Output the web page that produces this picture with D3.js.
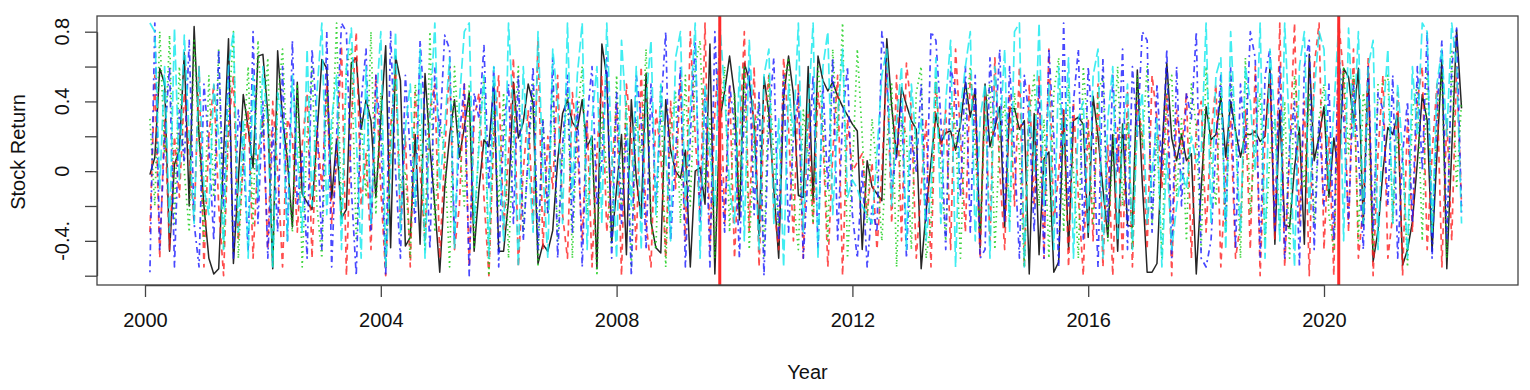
<!DOCTYPE html>
<html>
<head>
<meta charset="utf-8">
<script src="https://cdn.jsdelivr.net/npm/d3@7"></script>
<style>
  html, body { margin: 0; padding: 0; background: #fff; }
  svg text { font-family: "Liberation Sans", Arial, sans-serif; fill: #111; }
</style>
</head>
<body>
<svg width="1530" height="390"></svg>
<script>
// monthly returns, first point = Feb 2000
const startYear = 2000;

const blackSeries = [
  -0.02,0.08,0.59,0.5,-0.46,0.04,0.12,0.68,-0.2,0.83,
  0.2,-0.2,-0.5,-0.59,-0.56,0.1,0.76,-0.53,-0.05,0.44,
  0.25,0.02,0.66,0.67,0.33,-0.56,0.69,0.3,0.06,-0.32,
  0.51,-0.13,-0.18,-0.22,0.2,0.64,0.59,-0.16,0.18,-0.27,
  -0.22,0.62,0.65,0.24,0.41,0.29,-0.15,0.3,0.72,-0.44,
  0.66,0.52,-0.43,-0.38,0.21,-0.42,0.56,0.14,-0.2,-0.58,
  -0.1,0.2,0.41,0.08,0.25,0.45,-0.46,-0.1,0.18,0.14,
  0.5,-0.46,-0.46,-0.17,0.51,0.19,0.28,0.5,0.39,-0.53,
  -0.42,-0.46,-0.34,0.06,0.33,0.41,0.28,0.24,0.41,0.14,
  0.2,-0.56,0.73,0.54,-0.41,-0.1,0.21,-0.48,0.41,-0.04,
  -0.27,0.56,-0.29,-0.44,-0.47,0.41,0.12,0.0,-0.04,0.12,
  -0.55,0.0,0.02,-0.19,0.73,-0.59,0.29,0.46,0.66,0.44,
  -0.28,0.62,0.52,0.27,-0.37,0.54,0.33,-0.1,-0.5,0.42,
  0.66,0.44,-0.14,-0.15,0.6,-0.17,0.66,0.52,0.46,0.51,
  0.43,0.37,0.32,0.27,0.23,-0.45,0.06,-0.09,-0.13,-0.17,
  0.76,0.37,0.08,0.48,0.38,0.29,0.24,-0.56,-0.23,0.05,
  0.33,0.16,0.22,0.23,0.12,0.27,0.51,0.31,0.47,-0.44,
  0.5,0.14,0.25,0.37,-0.32,0.36,0.36,0.24,0.29,-0.59,
  0.33,-0.48,0.07,0.11,-0.58,-0.52,0.35,-0.45,0.29,0.31,
  0.27,-0.38,0.43,0.2,-0.1,-0.38,0.21,-0.46,0.27,-0.31,
  -0.32,0.58,-0.06,-0.58,-0.58,-0.53,0.1,0.62,0.19,0.06,
  0.21,0.06,0.1,-0.59,-0.1,0.37,0.18,0.21,0.43,0.08,
  0.4,0.23,0.08,0.21,0.21,0.23,0.17,0.2,0.59,-0.42,
  0.35,-0.31,-0.32,0.02,0.25,-0.42,0.67,0.06,0.2,0.37,
  -0.15,0.19,-0.02,0.59,0.54,0.28,0.59,-0.31,0.6,-0.52,
  -0.34,0.0,0.25,0.21,0.33,-0.54,-0.45,-0.29,0.05,0.44,
  0.29,-0.46,0.1,0.64,-0.56,0.12,0.81,0.36
];

const redSeries = [
  -0.35,0.55,-0.5,0.3,-0.45,0.2,-0.15,0.45,0.1,-0.3,
  0.6,-0.55,0.2,0.5,-0.2,-0.6,0.25,0.55,-0.4,0.05,
  0.35,-0.5,0.1,0.3,-0.45,0.4,0.0,-0.55,0.3,0.2,
  -0.35,0.15,0.45,-0.5,0.25,-0.1,0.5,-0.3,0.05,0.72,
  -0.6,0.3,0.8,-0.2,0.1,-0.45,0.55,-0.1,-0.6,0.25,
  0.6,-0.3,0.2,-0.55,0.45,0.0,-0.4,0.35,0.5,-0.5,
  0.1,0.6,-0.45,-0.2,0.5,-0.55,0.3,0.45,-0.15,-0.6,
  0.2,0.55,-0.35,0.1,0.65,-0.55,0.0,0.35,-0.3,0.75,
  -0.45,0.2,-0.1,0.55,-0.25,-0.5,0.45,0.15,-0.4,0.3,
  -0.55,0.1,0.55,-0.35,0.0,0.4,-0.6,0.5,0.2,-0.45,
  0.6,-0.3,-0.55,0.35,0.1,-0.5,0.4,-0.1,0.55,-0.4,
  0.8,0.2,-0.25,0.85,-0.45,0.35,0.7,-0.3,0.5,-0.5,
  0.15,0.8,-0.35,0.6,-0.55,0.3,0.55,-0.2,-0.45,0.65,
  0.25,-0.4,0.5,-0.5,0.35,-0.3,0.45,0.2,-0.55,0.1,
  0.55,-0.6,0.3,0.0,0.05,0.1,-0.25,0.05,-0.45,0.0,
  0.6,-0.3,0.55,-0.4,0.62,0.35,-0.5,-0.1,0.3,-0.55,
  0.5,0.1,0.35,-0.45,0.7,0.2,-0.35,0.55,0.3,-0.5,
  0.45,-0.4,0.65,0.0,-0.45,0.45,-0.2,0.6,-0.55,0.5,
  -0.2,0.55,-0.5,0.7,-0.3,0.0,0.35,-0.55,0.4,-0.15,
  -0.6,0.3,-0.4,0.5,-0.55,0.15,-0.6,0.25,-0.5,0.45,
  -0.55,0.4,0.2,-0.45,0.55,0.3,-0.1,0.45,-0.6,0.35,
  0.1,0.45,-0.5,0.25,0.4,-0.35,0.2,0.5,-0.55,0.0,
  0.3,-0.5,-0.3,0.35,-0.45,0.6,-0.6,0.2,0.55,-0.4,
  0.85,-0.55,0.1,0.85,-0.3,0.4,-0.6,0.6,0.85,-0.45,
  0.2,-0.6,0.85,0.55,-0.35,0.7,-0.5,-0.2,0.65,-0.6,
  0.1,0.55,-0.5,-0.25,0.45,-0.6,0.3,-0.35,0.4,0.6,
  -0.45,0.1,0.5,-0.55,0.3,-0.4,0.6,-0.2
];

const greenSeries = [
  0.3,-0.2,0.8,0.1,0.78,-0.3,0.6,0.0,-0.35,0.75,
  0.2,-0.4,0.55,-0.15,0.7,-0.45,0.3,0.8,-0.5,0.1,
  0.6,-0.3,0.75,0.2,0.65,-0.55,0.4,0.7,0.05,-0.35,
  0.5,-0.55,0.2,0.6,-0.2,-0.5,0.45,0.1,0.85,-0.3,
  0.6,0.7,-0.4,0.3,-0.15,0.8,-0.25,0.45,-0.55,0.2,
  0.55,-0.1,0.0,-0.5,0.5,0.25,-0.45,0.8,-0.35,0.3,
  0.1,-0.55,0.6,0.15,-0.2,0.5,-0.45,0.2,0.55,-0.6,
  0.35,-0.2,0.45,-0.5,0.2,0.6,-0.35,0.05,0.5,-0.55,
  0.3,-0.25,0.5,-0.4,0.1,0.45,-0.5,0.3,0.6,-0.25,
  0.2,-0.6,0.35,0.0,-0.45,0.55,-0.2,0.4,-0.55,0.3,
  0.1,0.7,-0.3,-0.45,0.5,-0.55,0.25,0.45,-0.3,0.55,
  -0.2,0.6,0.75,-0.1,0.3,-0.5,0.25,0.6,-0.35,0.45,
  -0.2,0.6,-0.45,0.2,0.4,-0.5,0.55,0.1,-0.35,0.5,
  0.65,-0.15,-0.45,0.35,0.1,-0.3,0.6,0.3,-0.4,0.7,
  0.2,0.85,-0.5,0.0,0.7,0.2,-0.3,0.3,0.0,-0.4,
  0.15,0.5,-0.55,0.3,0.2,-0.45,0.45,0.6,-0.5,-0.3,
  0.55,0.0,-0.4,0.4,0.25,-0.5,0.3,0.6,0.1,-0.35,
  0.35,0.5,-0.45,0.2,0.4,-0.3,0.45,0.1,-0.55,0.3,
  0.55,-0.2,0.3,-0.5,0.45,0.65,-0.35,0.5,0.0,-0.5,
  0.6,0.2,-0.3,0.45,0.55,-0.4,0.1,0.6,-0.2,0.3,
  -0.45,0.55,0.15,0.6,-0.3,0.2,-0.5,0.45,0.55,-0.15,
  0.3,-0.4,0.5,0.25,-0.45,0.6,0.1,-0.2,0.5,-0.35,
  0.55,0.25,-0.5,0.65,-0.25,0.2,0.45,-0.4,0.1,0.3,
  -0.35,0.4,-0.5,0.55,0.2,-0.1,0.45,-0.3,0.3,0.5,
  -0.25,-0.45,0.3,0.6,0.1,0.55,-0.4,0.45,0.25,-0.45,
  0.5,0.5,0.55,-0.3,0.2,0.1,-0.55,0.35,0.5,-0.4,
  0.6,-0.35,0.3,0.55,-0.5,0.7,-0.1,0.4
];

const blueSeries = [
  -0.58,0.85,-0.45,0.2,0.6,-0.55,0.35,0.05,0.75,-0.3,
  -0.55,0.5,0.15,-0.4,0.7,-0.2,0.6,-0.5,0.35,0.1,
  -0.45,0.8,-0.3,0.4,-0.5,0.25,-0.35,0.6,-0.4,0.75,
  -0.2,0.1,-0.5,0.7,0.3,-0.45,0.8,-0.55,0.2,0.85,
  0.8,-0.1,-0.6,0.4,0.7,-0.35,0.55,0.2,-0.6,0.8,
  0.0,-0.5,0.55,0.1,-0.3,0.75,0.3,-0.45,0.6,0.2,
  0.78,0.7,-0.4,0.2,0.5,-0.6,0.45,0.3,0.72,-0.1,
  0.6,-0.55,0.25,0.5,-0.3,0.55,-0.4,0.1,0.6,-0.45,
  0.3,-0.25,0.65,-0.5,0.15,0.55,-0.35,0.4,-0.55,0.3,
  0.6,-0.2,0.05,0.65,-0.5,0.45,-0.3,0.25,-0.6,0.55,
  0.3,-0.45,0.5,-0.2,0.35,0.8,-0.4,0.1,0.6,-0.55,
  0.2,0.75,-0.3,0.45,-0.55,0.8,0.1,-0.35,0.5,0.25,
  -0.5,0.35,0.6,-0.25,0.45,-0.6,0.3,0.65,-0.4,0.55,
  -0.35,0.2,0.45,-0.5,0.0,0.55,-0.45,0.5,-0.1,0.65,
  -0.4,0.3,0.6,-0.25,-0.5,0.0,-0.55,-0.2,-0.35,0.8,
  0.55,-0.1,0.1,0.4,-0.5,0.2,0.0,0.5,-0.3,0.8,
  0.75,0.3,-0.45,0.6,0.45,-0.15,0.6,-0.35,0.55,-0.5,
  -0.45,0.65,0.2,0.7,-0.3,0.6,0.1,-0.5,0.55,0.3,
  -0.35,0.5,-0.5,0.7,0.2,-0.55,0.85,-0.2,0.4,0.7,
  -0.4,0.6,0.2,-0.55,0.65,-0.3,0.55,0.0,0.7,-0.45,
  0.6,0.2,0.8,0.75,-0.35,0.5,0.0,0.7,-0.5,0.6,
  -0.2,0.45,0.3,0.8,-0.5,-0.55,-0.4,0.15,0.55,-0.3,
  0.6,-0.45,0.5,0.1,0.8,0.65,-0.5,0.55,0.7,-0.35,
  0.6,-0.5,0.15,0.4,-0.55,0.6,0.75,-0.45,0.3,-0.2,
  0.5,-0.4,0.7,0.3,-0.3,0.5,0.1,-0.45,0.6,-0.35,
  0.45,0.35,-0.2,0.55,-0.5,0.1,0.4,-0.3,0.6,0.0,
  0.8,-0.5,0.35,0.75,-0.4,0.6,0.82,-0.25
];

const cyanSeries = [
  0.85,0.8,-0.1,0.6,-0.35,0.82,-0.05,0.78,0.2,-0.3,
  0.6,-0.1,-0.25,0.5,0.2,-0.45,0.6,0.8,-0.35,0.3,
  -0.5,0.55,-0.15,0.6,0.25,-0.55,0.45,0.3,-0.4,0.55,
  0.1,-0.35,0.7,-0.2,0.45,0.85,-0.25,0.3,0.55,-0.45,
  0.6,0.82,0.2,-0.5,0.6,-0.3,0.35,0.8,-0.55,0.0,
  0.8,-0.35,0.25,0.5,-0.2,0.7,-0.5,0.3,0.85,-0.1,
  0.25,0.65,-0.45,0.4,0.8,0.85,-0.3,0.15,0.55,-0.5,
  0.6,0.2,-0.4,0.85,0.3,-0.55,0.6,0.1,-0.35,0.8,
  0.0,-0.5,0.7,0.4,-0.3,0.85,-0.15,0.55,0.85,-0.45,
  0.3,0.6,-0.3,0.85,0.1,-0.5,0.75,0.3,-0.2,0.6,
  -0.45,0.4,0.75,-0.25,0.5,0.1,-0.4,0.65,0.8,-0.2,
  0.35,0.85,-0.5,0.5,0.1,-0.2,0.85,0.45,-0.1,-0.3,
  0.6,-0.4,0.75,0.2,-0.45,0.55,0.7,-0.3,0.3,-0.55,
  0.5,0.2,0.85,-0.35,0.35,0.85,-0.5,0.6,0.8,-0.25,
  0.3,0.7,-0.15,-0.05,-0.1,-0.2,-0.25,-0.3,0.1,0.55,
  0.7,-0.2,0.3,0.6,-0.45,0.5,0.15,0.3,-0.4,-0.1,
  0.65,-0.3,0.4,0.75,-0.55,0.35,0.6,0.8,-0.4,0.3,
  0.5,-0.5,0.6,0.2,0.7,-0.35,0.8,0.85,-0.55,0.4,
  0.0,0.85,-0.2,0.5,-0.45,0.6,0.1,0.65,-0.5,0.3,
  0.4,-0.35,0.55,0.7,-0.5,0.3,0.6,-0.4,0.2,0.5,
  -0.45,0.25,0.45,-0.3,0.0,0.3,-0.55,0.1,-0.45,-0.2,
  0.0,-0.1,0.2,0.05,0.1,0.85,-0.3,0.55,0.65,-0.45,
  0.8,0.2,-0.35,0.6,0.4,0.0,0.85,-0.5,0.7,0.3,
  -0.4,0.85,0.2,-0.55,0.6,0.8,-0.25,0.45,0.8,0.7,
  -0.1,0.35,0.85,-0.4,0.82,0.2,0.8,-0.3,0.6,0.75,
  -0.45,0.3,0.7,-0.3,0.5,0.1,-0.5,0.6,0.2,0.85,
  0.8,-0.35,0.5,0.7,0.2,0.85,0.6,-0.3
];

const seriesList   = [blackSeries, redSeries, greenSeries, blueSeries, cyanSeries];
const seriesColors = ["#1a1a1a", "#ff2020", "#10cc10", "#1a1aff", "#10e8ee"];
const seriesDash   = [null, "6,5", "1.5,3.5", "2,4,6,4", "11,4"];

const breakYears = [2009.75, 2020.25];

const xTicks = [2000, 2004, 2008, 2012, 2016, 2020];
const yTicks = [-0.6, -0.4, -0.2, 0, 0.2, 0.4, 0.6, 0.8];
const yTickLabels = ["", "-0.4.", "", "0", "", "0.4", "", "0.8"];

const box = { left: 97, right: 1518, top: 16, bottom: 285 };

const svg = d3.select("svg");

const xScale = d3.scaleLinear().domain([2000, 2020]).range([145, 1324]);
const yScale = d3.scaleLinear().domain([-0.6, 0.8]).range([275.7, 31.7]);

const line = d3.line()
  .x((d, i) => xScale(startYear + (i + 1) / 12))
  .y(d => yScale(d));

seriesList.forEach((s, j) => {
  svg.append("path")
     .datum(s)
     .attr("d", line)
     .attr("fill", "none")
     .attr("stroke", seriesColors[j])
     .attr("stroke-width", j == 0 ? 1.5 : 1.7)
     .attr("stroke-opacity", j == 0 ? 0.95 : 0.8)
     .attr("stroke-dasharray", seriesDash[j])
     .attr("stroke-linejoin", "round");
});

svg.selectAll(".break")
   .data(breakYears)
   .enter()
   .append("line")
   .attr("class", "break")
   .attr("x1", d => xScale(d))
   .attr("x2", d => xScale(d))
   .attr("y1", box.top)
   .attr("y2", box.bottom)
   .attr("stroke", "#ff2a2a")
   .attr("stroke-width", 3);

// plot frame
svg.append("rect")
   .attr("x", box.left)
   .attr("y", box.top)
   .attr("width", box.right - box.left)
   .attr("height", box.bottom - box.top)
   .attr("fill", "none")
   .attr("stroke", "#444")
   .attr("stroke-width", 1.3);

const xAxis = svg.append("g")
   .attr("transform", `translate(0, ${box.bottom})`)
   .call(d3.axisBottom(xScale).tickValues(xTicks).tickFormat(d3.format("d"))
           .tickSize(12).tickSizeOuter(0).tickPadding(16));
xAxis.selectAll("path, line").attr("stroke", "#444").attr("stroke-width", 1.3);
xAxis.selectAll("text")
     .style("font-size", "20px")
     .style("font-family", "'Liberation Sans', Arial, sans-serif")
     .attr("fill", "#111");

const yAxis = svg.append("g")
   .attr("transform", `translate(${box.left}, 0)`)
   .call(d3.axisLeft(yScale).tickValues(yTicks).tickFormat("").tickSize(12).tickSizeOuter(0));
yAxis.selectAll("path, line").attr("stroke", "#444").attr("stroke-width", 1.3);

svg.selectAll(".ylab")
   .data(yTicks)
   .enter()
   .append("text")
   .attr("class", "ylab")
   .attr("transform", d => `translate(69, ${yScale(d)}) rotate(-90)`)
   .attr("text-anchor", "middle")
   .style("font-size", "20px")
   .text((d, i) => yTickLabels[i]);

svg.append("text")
   .attr("transform", "translate(25, 152) rotate(-90)")
   .attr("text-anchor", "middle")
   .style("font-size", "20px")
   .text("Stock Return");

svg.append("text")
   .attr("x", (box.left + box.right) / 2)
   .attr("y", 379)
   .attr("text-anchor", "middle")
   .style("font-size", "20px")
   .text("Year");
</script>
</body>
</html>
